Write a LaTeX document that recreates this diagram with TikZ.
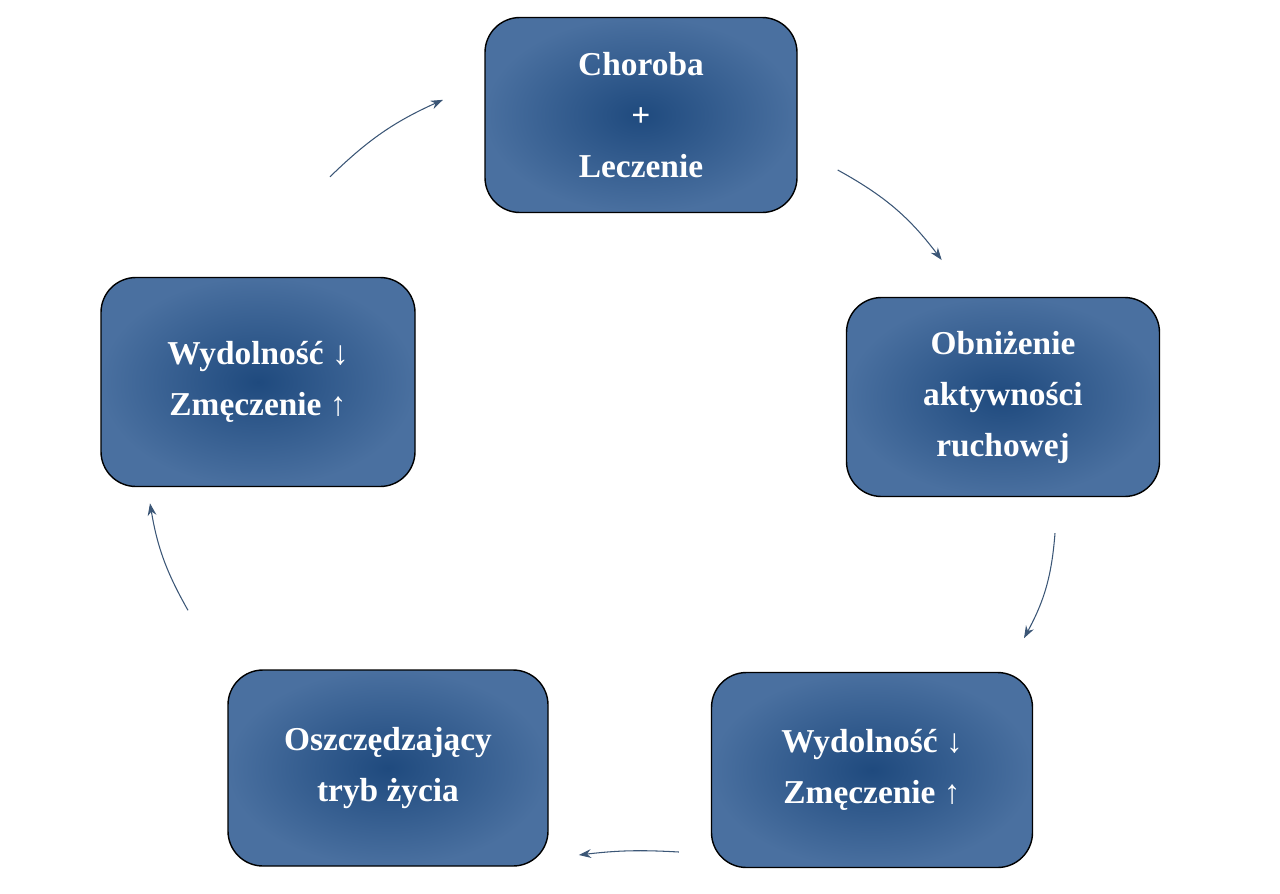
\documentclass[tikz,border=0pt]{standalone}
\usepackage{fontspec}
\setmainfont{Liberation Serif}
\usetikzlibrary{arrows.meta}
\definecolor{boxblue}{HTML}{1F4A7E}
\definecolor{boxlight}{HTML}{5C80AE}
\definecolor{arrowblue}{HTML}{3B5676}
\begin{document}
\begin{tikzpicture}[
    stage/.style={rectangle, rounded corners=0.7cm, draw=black, thick, inner color=boxblue, outer color=boxlight!70!boxblue,
        text=white, align=center, font=\bfseries\fontsize{19}{29}\selectfont},
    flow/.style={-{Stealth[length=7pt,width=5pt]}, semithick, draw=arrowblue}
]
    \useasboundingbox (0,0) rectangle (25.6,-17.86);
    % Stages
    \node[stage, minimum width=6.24cm, minimum height=3.9cm] (disease) at (12.82,-2.30) {Choroba\\+\\Leczenie};
    \node[stage, minimum width=6.26cm, minimum height=3.98cm] (activity) at (20.06,-7.94) {Obniżenie\\aktywności\\ruchowej};
    \node[stage, minimum width=6.42cm, minimum height=3.9cm] (fatigue) at (17.44,-15.40) {Wydolność ↓\\Zmęczenie ↑};
    \node[stage, minimum width=6.40cm, minimum height=3.92cm] (lifestyle) at (7.76,-15.36) {Oszczędzający\\tryb życia};
    \node[stage, minimum width=6.28cm, minimum height=4.18cm] (fitness) at (5.16,-7.64) {Wydolność ↓\\Zmęczenie ↑};

    % Cycle
    \draw[flow] (disease.east) ++(0.8,-1.1) coordinate (a1) to[bend left=12] ++(2.08,-1.8);
    \draw[flow] (activity.south) ++(1.04,-0.72) coordinate (a2) to[bend left=12] ++(-0.62,-2.1);
    \draw[flow] (fatigue.west) ++(-0.64,-1.64) coordinate (a3) to[bend right=5] ++(-2.0,-0.06);
    \draw[flow] (lifestyle.north) ++(-4.0,1.18) coordinate (a4) to[bend left=10] ++(-0.76,2.14);
    \draw[flow] (fitness.north) ++(1.44,2.0) coordinate (a5) to[bend left=10] ++(2.26,1.54);
\end{tikzpicture}
\end{document}
